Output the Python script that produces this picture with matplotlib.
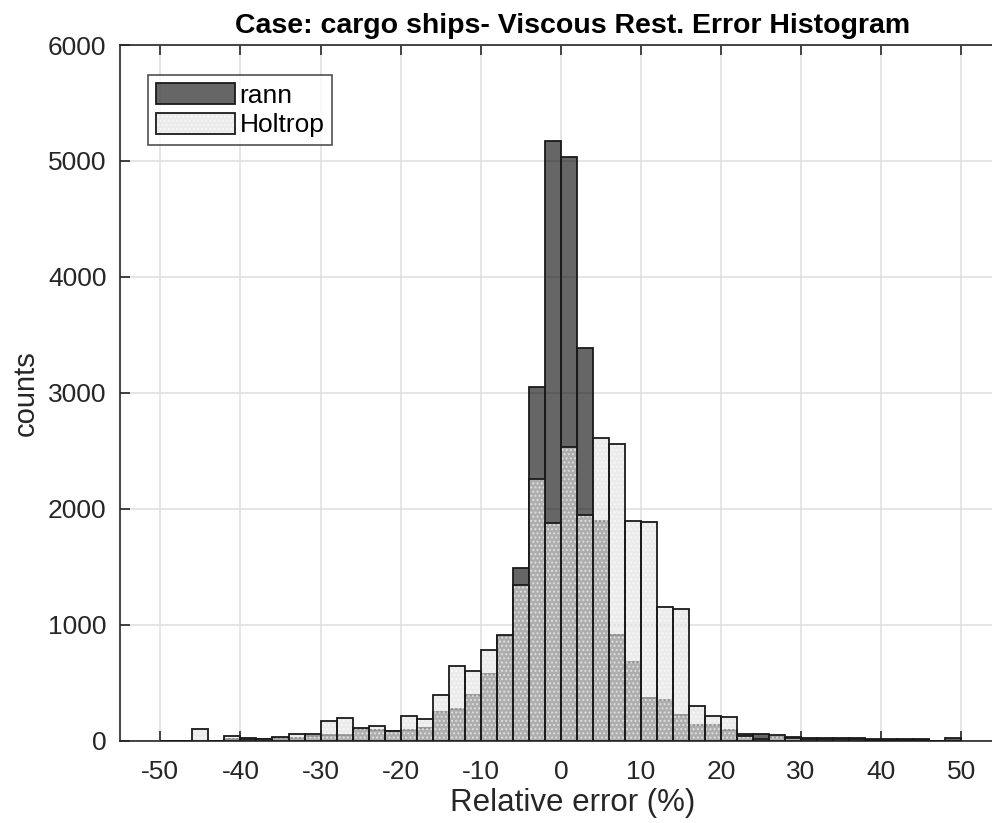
import numpy as np
import matplotlib.pyplot as plt
from matplotlib.patches import Patch

plt.rcParams['font.family'] = ['Liberation Sans', 'DejaVu Sans']
plt.rcParams['axes.unicode_minus'] = False

# histogram bins: width 2 from -50 to 50 (left edges)
bin_left = np.arange(-50, 50, 2)

# counts per bin
rann = [0, 0, 0, 0, 14, 18, 15, 18, 22, 40,
        45, 45, 100, 92, 78, 90, 110, 250, 268, 393,
        577, 905, 1488, 3049, 5168, 5030, 3383, 1895, 914, 678,
        368, 352, 216, 131, 131, 89, 55, 55, 28, 30,
        25, 25, 25, 18, 15, 15, 15, 15, 0, 18]
holtrop = [0, 0, 100, 0, 38, 10, 12, 32, 55, 55,
           167, 198, 112, 128, 82, 213, 190, 389, 643, 601,
           782, 911, 1339, 2253, 1878, 2535, 1947, 2608, 2556, 1895,
           1885, 1150, 1138, 297, 211, 200, 35, 15, 45, 20,
           15, 15, 15, 10, 5, 5, 5, 5, 0, 0]

fig = plt.figure(figsize=(9.92, 8.23), dpi=100)
ax = fig.add_axes([0.1213, 0.1002, 0.9123, 0.8451])

rann_face = (0, 0, 0, 0.6)
holt_face = (0.87, 0.87, 0.87, 0.6)
edge = '#1a1a1a'

ax.bar(bin_left, rann, width=2, align='edge', color=rann_face,
       edgecolor=edge, linewidth=1.3, zorder=3)
ax.bar(bin_left, holtrop, width=2, align='edge', color=holt_face,
       edgecolor='none', linewidth=0, zorder=4)
# faint dot texture on the Holtrop bars
ax.bar(bin_left, holtrop, width=2, align='edge', fill=False,
       edgecolor=(1, 1, 1, 0.55), hatch='....', linewidth=0, zorder=5)
ax.bar(bin_left, holtrop, width=2, align='edge', fill=False,
       edgecolor=edge, linewidth=1.3, zorder=6)

ax.set_xlim(-55, 58)
ax.set_ylim(0, 6000)
ax.set_xticks(np.arange(-50, 51, 10))
ax.set_yticks(np.arange(0, 6001, 1000))

ax.grid(True, color='#dedede', linewidth=1.1, zorder=0)
ax.set_axisbelow(True)
ax.tick_params(direction='in', length=7, width=1.2, color='#262626',
               labelsize=19, labelcolor='#262626', top=True, right=True)
ax.tick_params(axis='x', pad=14)
ax.tick_params(axis='y', pad=10)
for s in ax.spines.values():
    s.set_color('#262626')
    s.set_linewidth(1.2)

ax.set_title('Case: cargo ships- Viscous Rest. Error Histogram',
             fontsize=20.5, fontweight='bold', pad=9)
ax.set_xlabel('Relative error (%)', fontsize=22.5, color='#262626', labelpad=3)
ax.set_ylabel('counts', fontsize=21, color='#262626', labelpad=6)

h_rann = Patch(facecolor=rann_face, edgecolor=edge, linewidth=1.3)
h_holt = (Patch(facecolor=holt_face, edgecolor='none'),
          Patch(fill=False, edgecolor=(1, 1, 1, 0.55), hatch='....', linewidth=0),
          Patch(fill=False, edgecolor=edge, linewidth=1.3))
leg = ax.legend([h_rann, h_holt], ['rann', 'Holtrop'], loc='upper left',
                bbox_to_anchor=(0.031, 0.957), fontsize=19, frameon=True,
                fancybox=False, edgecolor='#262626', handlelength=3.0,
                handleheight=0.85, handletextpad=0.15, borderpad=0.3,
                labelspacing=0.2, borderaxespad=0)
leg.get_frame().set_linewidth(1.2)

fig.savefig('out.png', dpi=100)
